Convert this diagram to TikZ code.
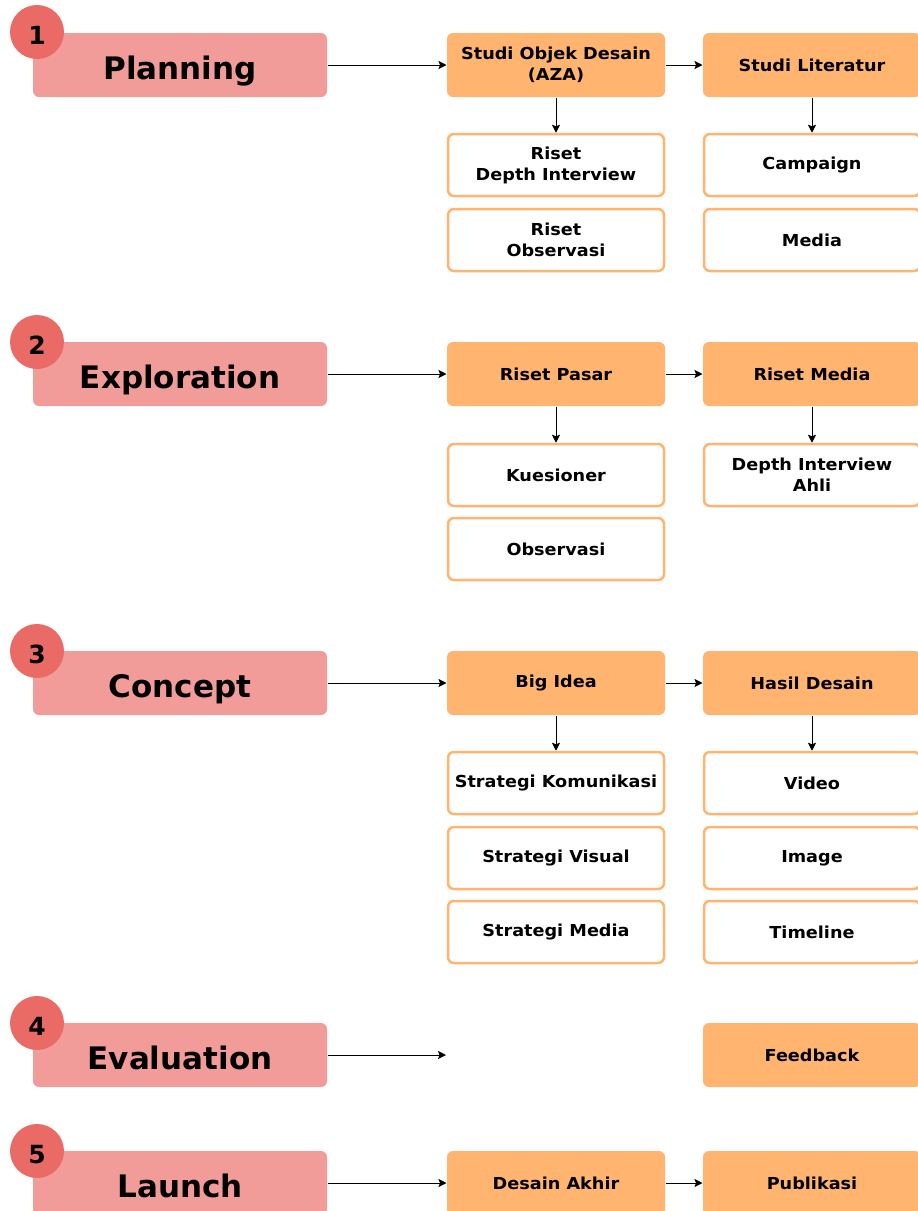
\documentclass[tikz,border=0pt]{standalone}
\usepackage{fontspec}
\usetikzlibrary{arrows.meta}
\setmainfont{DejaVu Sans}
\newfontfamily\boxfont{DejaVu Sans}[FakeStretch=1.07]
\definecolor{stagepink}{HTML}{F19C99}
\definecolor{numred}{HTML}{EA6B66}
\definecolor{boxorange}{HTML}{FFB570}
\tikzset{
  stage/.style={rounded corners=6pt,fill=stagepink,minimum width=294pt,minimum height=64pt,
    font=\fontsize{31}{36}\selectfont\bfseries,inner sep=0pt,text depth=0pt,text height=28pt},
  num/.style={circle,fill=numred,minimum size=54pt,inner sep=0pt,
    font=\fontsize{25}{28}\selectfont\bfseries,text depth=0pt,text height=25pt},
  mainbox/.style={rounded corners=6pt,fill=boxorange,minimum width=218pt,minimum height=64pt,
    align=center,font=\boxfont\fontsize{16.5}{21}\selectfont\bfseries,inner sep=0pt},
  subbox/.style={rounded corners=6pt,draw=boxorange,line width=2.5pt,fill=white,
    minimum width=216pt,minimum height=62pt,align=center,
    font=\boxfont\fontsize{16.5}{21}\selectfont\bfseries,inner sep=0pt},
}
\begin{document}
\begin{tikzpicture}[x=1pt,y=-1pt,>={Stealth[length=8pt,width=8pt,inset=1.5pt]},line width=1pt]
\useasboundingbox (0,0) rectangle (918,1211);
% stages
\node[stage] (plan) at (180,65) {Planning};
\node[stage] (explo) at (180,374) {Exploration};
\node[stage] (conc) at (180,683) {Concept};
\node[stage] (eval) at (180,1055) {Evaluation};
\node[stage] (launch) at (180,1183) {Launch};
\node[num] (n1) at (37,32) {1};
\node[num] (n2) at (37,342) {2};
\node[num] (n3) at (37,651) {3};
\node[num] (n4) at (37,1023) {4};
\node[num] (n5) at (37,1151) {5};
% planning
\node[mainbox] (aza) at (556,65) {Studi Objek Desain\\(AZA)};
\node[mainbox] (lit) at (812,65) {Studi Literatur};
\node[subbox] (depth) at (556,165) {Riset\\Depth Interview};
\node[subbox] (obs) at (556,240) {Riset\\Observasi};
\node[subbox] (camp) at (812,165) {Campaign};
\node[subbox] (media) at (812,240) {Media};
% exploration
\node[mainbox] (pasar) at (556,374) {Riset Pasar};
\node[mainbox] (rmedia) at (812,374) {Riset Media};
\node[subbox] (kues) at (556,475) {Kuesioner};
\node[subbox] (obsv) at (556,549) {Observasi};
\node[subbox] (ahli) at (812,475) {Depth Interview\\Ahli};
% concept
\node[mainbox] (idea) at (556,683) {Big Idea};
\node[mainbox] (hasil) at (812,683) {Hasil Desain};
\node[subbox] (skom) at (556,783) {Strategi Komunikasi};
\node[subbox] (svis) at (556,858) {Strategi Visual};
\node[subbox] (smed) at (556,932) {Strategi Media};
\node[subbox] (video) at (812,783) {Video};
\node[subbox] (image) at (812,858) {Image};
\node[subbox] (timeline) at (812,932) {Timeline};
% evaluation
\coordinate (evalend) at (446,1055);
\node[mainbox] (feedback) at (812,1055) {Feedback};
% launch
\node[mainbox] (akhir) at (556,1183) {Desain Akhir};
\node[mainbox] (publ) at (812,1183) {Publikasi};
% arrows
\draw[->] (plan) -- (aza);
\draw[->] (aza) -- (lit);
\draw[->] (aza) -- (depth);
\draw[->] (lit) -- (camp);
\draw[->] (explo) -- (pasar);
\draw[->] (pasar) -- (rmedia);
\draw[->] (pasar) -- (kues);
\draw[->] (rmedia) -- (ahli);
\draw[->] (conc) -- (idea);
\draw[->] (idea) -- (hasil);
\draw[->] (idea) -- (skom);
\draw[->] (hasil) -- (video);
\draw[->] (eval) -- (evalend);
\draw[->] (launch) -- (akhir);
\draw[->] (akhir) -- (publ);
\end{tikzpicture}
\end{document}
